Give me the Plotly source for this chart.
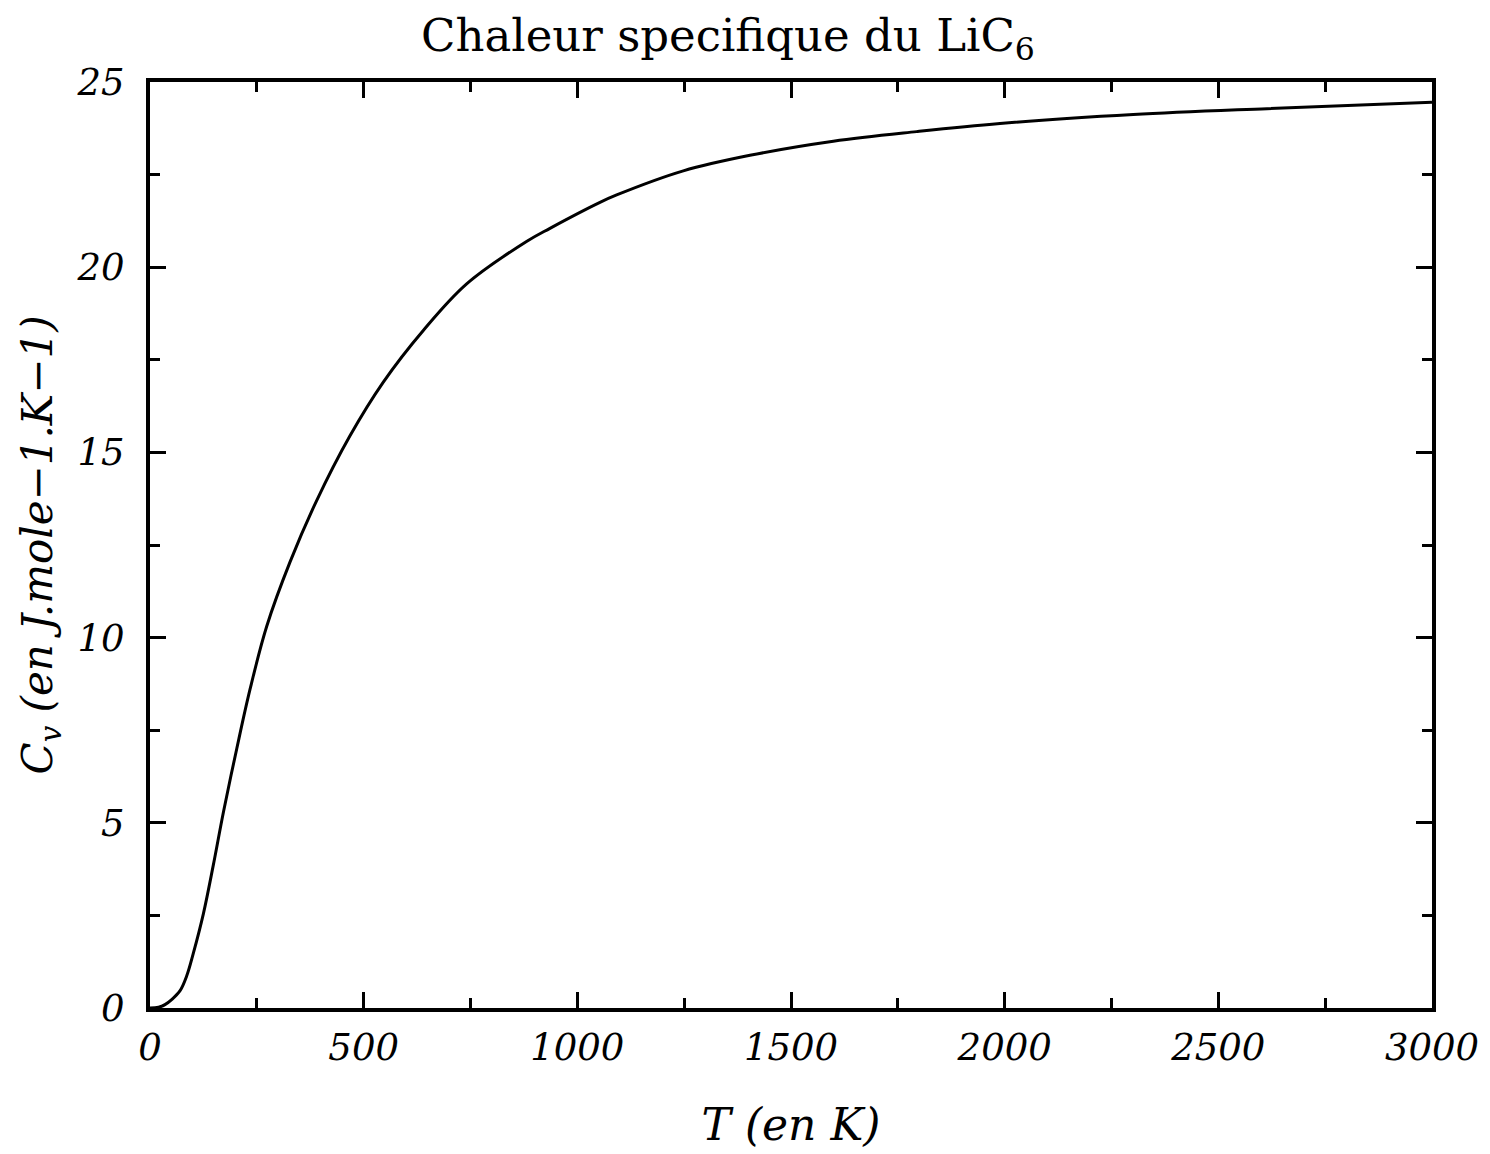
import plotly.graph_objects as go

# Temperature (K) and specific heat Cv (J/mole/K)
temperature = [0, 20, 35, 50, 70, 86, 101, 125, 148, 172, 203, 234, 273, 328,
               390, 468, 546, 640, 741, 882, 936, 1053, 1092, 1248, 1404, 1599,
               1794, 1989, 2301, 2614, 3000]
cv = [0, 0.02, 0.09, 0.22, 0.46, 0.87, 1.46, 2.55, 3.85, 5.3, 7.0, 8.6, 10.3,
      12.05, 13.7, 15.45, 16.9, 18.3, 19.55, 20.7, 21.05, 21.75, 21.95, 22.6,
      23.02, 23.4, 23.66, 23.88, 24.12, 24.28, 24.45]

SERIF = "DejaVu Serif"

fig = go.Figure()

fig.add_trace(
    go.Scatter(
        x=temperature,
        y=cv,
        mode="lines",
        line=dict(color="black", width=3, shape="spline", smoothing=1.0),
        showlegend=False,
    )
)

axis_common = dict(
    showline=True,
    linecolor="black",
    linewidth=4,
    mirror="ticks",
    ticks="inside",
    tickwidth=2.5,
    tickcolor="black",
    ticklen=16,
    showgrid=False,
    zeroline=False,
    tickfont=dict(family=SERIF, size=37, color="black", style="italic"),
)

fig.update_xaxes(
    range=[0, 3000],
    tick0=0,
    dtick=500,
    ticklabelstandoff=4,
    minor=dict(dtick=250, ticks="inside", ticklen=10, tickwidth=2.5, tickcolor="black"),
    title=dict(text="T (en K)", font=dict(family=SERIF, size=44, color="black", style="italic"),
               standoff=42),
    **axis_common,
)

fig.update_yaxes(
    range=[0, 25],
    tick0=0,
    dtick=5,
    ticklabelstandoff=14,
    minor=dict(dtick=2.5, ticks="inside", ticklen=10, tickwidth=2.5, tickcolor="black"),
    title=dict(text="C<sub>v</sub> (en J.mole\u22121.K\u22121)",
               font=dict(family=SERIF, size=42, color="black", style="italic"),
               standoff=12),
    **axis_common,
)

fig.update_layout(
    width=1490,
    height=1154,
    margin=dict(l=142, r=66, t=74, b=154, autoexpand=False),
    paper_bgcolor="white",
    plot_bgcolor="white",
    title=dict(
        text="Chaleur specifique du LiC<sub>6</sub>",
        font=dict(family=SERIF, size=45, color="black"),
        x=720 / 1490,
        xanchor="center",
        y=1 - 27 / 1154,
        yanchor="middle",
    ),
)

fig.write_html("out.html")
